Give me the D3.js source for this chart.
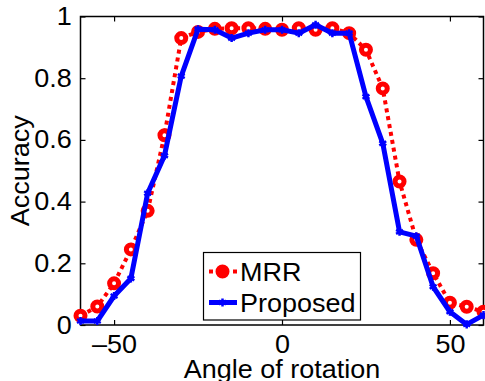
<!DOCTYPE html>
<html>
<head>
<meta charset="utf-8">
<script src="https://cdn.jsdelivr.net/npm/d3@7"></script>
<style>
  body { margin: 0; background: #fff; }
  text { font-family: "Liberation Sans", Arial, sans-serif; fill: #000; }
</style>
</head>
<body>
<svg id="chart"></svg>
<script>
const angles = [-60, -55, -50, -45, -40, -35, -30, -25, -20, -15, -10, -5, 0, 5, 10, 15, 20, 25, 30, 35, 40, 45, 50, 55, 60];
const mrr = [0.03, 0.06, 0.135, 0.245, 0.37, 0.615, 0.93, 0.95, 0.96, 0.962, 0.962, 0.96, 0.957, 0.962, 0.957, 0.962, 0.946, 0.892, 0.767, 0.465, 0.276, 0.168, 0.072, 0.059, 0.043];
const proposed = [0.013, 0.013, 0.094, 0.151, 0.427, 0.549, 0.807, 0.959, 0.957, 0.930, 0.946, 0.957, 0.957, 0.946, 0.973, 0.946, 0.946, 0.740, 0.589, 0.302, 0.288, 0.124, 0.043, 0.002, 0.032];
const xTicks = [-50, 0, 50];
const yTicks = [0, 0.2, 0.4, 0.6, 0.8, 1];
const seriesNames = ["MRR", "Proposed"];

const width = 485, height = 381;
const fs = "25px";
const stretch = "scale(1.08,1)"; // reference glyphs are a bit wider than Liberation Sans
const svg = d3.select("#chart").attr("width", width).attr("height", height);

const x = d3.scaleLinear().domain([-60, 60]).range([80.5, 483.5]);
const y = d3.scaleLinear().domain([0, 1]).range([325, 16.5]);

const tickFmtY = d => d === 0 || d === 1 ? String(d) : d3.format(".1f")(d);
const tickFmtX = d => d < 0 ? "\u2013" + Math.abs(d) : String(d);

// frame
svg.append("rect")
  .attr("x", x.range()[0]).attr("y", y.range()[1])
  .attr("width", x.range()[1] - x.range()[0])
  .attr("height", y.range()[0] - y.range()[1])
  .attr("fill", "none").attr("stroke", "#000").attr("stroke-width", 1.5);

// axes, inward ticks on all four sides
const axisStyle = g => {
  g.select(".domain").remove();
  g.selectAll(".tick line").attr("stroke", "#000").attr("stroke-width", 1.2);
  g.selectAll(".tick text").style("font-size", fs).attr("transform", stretch);
};
svg.append("g").attr("transform", `translate(0,${y.range()[0]})`)
  .call(d3.axisBottom(x).tickValues(xTicks).tickSizeInner(-5).tickPadding(10).tickFormat(tickFmtX))
  .call(axisStyle);
svg.append("g").attr("transform", `translate(0,${y.range()[1]})`)
  .call(d3.axisTop(x).tickValues(xTicks).tickSizeInner(-5).tickFormat(""))
  .call(axisStyle);
svg.append("g").attr("transform", `translate(${x.range()[0]},0)`)
  .call(d3.axisLeft(y).tickValues(yTicks).tickSizeInner(-5).tickPadding(8).tickFormat(tickFmtY))
  .call(axisStyle);
svg.append("g").attr("transform", `translate(${x.range()[1]},0)`)
  .call(d3.axisRight(y).tickValues(yTicks).tickSizeInner(-5).tickFormat(""))
  .call(axisStyle);

// axis titles
svg.append("g").attr("transform", `translate(${x(0)},378) ${stretch}`)
  .append("text")
  .attr("text-anchor", "middle").style("font-size", fs)
  .text("Angle of rotation");
svg.append("g").attr("transform", `translate(29,${(y.range()[0] + y.range()[1]) / 2}) rotate(-90) ${stretch}`)
  .append("text")
  .attr("text-anchor", "middle").style("font-size", fs)
  .text("Accuracy");

const line = d3.line().x((d, i) => x(angles[i])).y(d => y(d));
const star = d3.symbol().type(d3.symbolAsterisk).size(45);

// MRR
svg.append("path").datum(mrr)
  .attr("d", line).attr("fill", "none")
  .attr("stroke", "#ff0000").attr("stroke-width", 4)
  .attr("stroke-dasharray", "4,4");
svg.append("g").selectAll("circle").data(mrr).join("circle")
  .attr("cx", (d, i) => x(angles[i])).attr("cy", d => y(d))
  .attr("r", 4.5).attr("fill", "#fff")
  .attr("stroke", "#ff0000").attr("stroke-width", 5);

// Proposed
svg.append("path").datum(proposed)
  .attr("d", line).attr("fill", "none")
  .attr("stroke", "#0000ff").attr("stroke-width", 5)
  .attr("stroke-linejoin", "round");
svg.append("g").selectAll("path").data(proposed).join("path")
  .attr("transform", (d, i) => `translate(${x(angles[i])},${y(d)})`)
  .attr("d", star).attr("fill", "none")
  .attr("stroke", "#0000ff").attr("stroke-width", 2.5);

// legend
const lg = svg.append("g");
lg.append("rect")
  .attr("x", 203.5).attr("y", 252.5).attr("width", 157).attr("height", 67.5)
  .attr("fill", "#fff").attr("stroke", "#000").attr("stroke-width", 1.2);
const rows = [271.5, 302.5];
// MRR row
lg.append("line").attr("x1", 209).attr("x2", 237).attr("y1", rows[0]).attr("y2", rows[0])
  .attr("stroke", "#ff0000").attr("stroke-width", 4).attr("stroke-dasharray", "4,4");
lg.append("circle").attr("cx", 222.5).attr("cy", rows[0]).attr("r", 5)
  .attr("fill", "#ff0000").attr("stroke", "#ff0000").attr("stroke-width", 4);
// Proposed row
lg.append("line").attr("x1", 209).attr("x2", 237).attr("y1", rows[1]).attr("y2", rows[1])
  .attr("stroke", "#0000ff").attr("stroke-width", 5);
lg.append("path").attr("transform", `translate(222.5,${rows[1]})`)
  .attr("d", star).attr("fill", "none").attr("stroke", "#0000ff").attr("stroke-width", 2.5);
lg.selectAll("g.lbl").data(seriesNames).join("g")
  .attr("class", "lbl")
  .attr("transform", (d, i) => `translate(240,${rows[i] + 9}) ${stretch}`)
  .append("text")
  .style("font-size", fs)
  .text(d => d);
</script>
</body>
</html>
